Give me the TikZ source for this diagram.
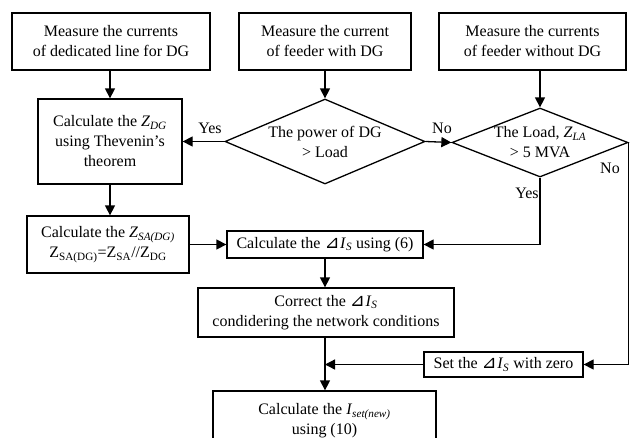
\documentclass[tikz,border=0pt]{standalone}
\usepackage{fontspec}
\setmainfont{Liberation Serif}
\newfontfamily\trifont{DejaVu Sans}
\usetikzlibrary{shapes.geometric,arrows.meta}

\newcommand{\dIs}{{\trifont\fontsize{18}{18}\selectfont ⊿}\kern0.5pt\textit{I}\textsubscript{\textit{S}}}

\tikzset{
	blk/.style={draw, line width=1.3pt, align=center, inner sep=0pt},
	dec/.style={draw, diamond, line width=1.3pt, inner sep=0pt},
	flow/.style={line width=1.3pt, -{Triangle[length=10pt,width=10pt]}},
	lbl/.style={inner sep=1pt}
}

\begin{document}
\begin{tikzpicture}[x=1pt, y=-1pt, font=\fontsize{16}{20}\selectfont]
	% Parameters
	\def\toph{57pt}
	\def\decw{200pt}
	\def\dech{85pt}
	
	\useasboundingbox (0,0) rectangle (636,437);
	\clip (0,0) rectangle (636,437);
	
	%measurements
	\node[blk, minimum width=198pt, minimum height=\toph] (mdl) at (111,41.5) {Measure the currents\\of dedicated line for DG};
	\node[blk, minimum width=172pt, minimum height=\toph] (mfw) at (325,41.5) {Measure the current\\of feeder with DG};
	\node[blk, minimum width=187pt, minimum height=\toph] (mfo) at (532.5,41.5) {Measure the currents\\of feeder without DG};
	
	%decisions
	\node[dec, minimum width=\decw, minimum height=\dech] (dpow) at (325,141.5) {};
	\node[align=center] at (dpow) {The power of DG\\> Load};
	\node[dec, minimum width=176pt, minimum height=69pt] (dload) at (540,142.5) {};
	\node[align=center] at (dload) {The Load, \textit{Z}\textsubscript{\textit{LA}}\\> 5 MVA};
	
	%blocks
	\node[blk, minimum width=144pt, minimum height=85pt] (zdg) at (110,141.5) {Calculate the \textit{Z}\textsubscript{\textit{DG}}\\using Thevenin's\\theorem};
	\node[blk, minimum width=162pt, minimum height=57pt] (zsa) at (108,244.5) {Calculate the \textit{Z}\textsubscript{\textit{SA(DG)}}\\Z\textsubscript{SA(DG)}=Z\textsubscript{SA}//Z\textsubscript{DG}};
	\node[blk, minimum width=196pt, minimum height=27pt] (cdi) at (325,244.5) {Calculate the \dIs\ using (6)};
	\node[blk, minimum width=256pt, minimum height=49pt] (corr) at (326,312.5) {Correct the \dIs\\condidering the network conditions};
	\node[blk, minimum width=159pt, minimum height=25pt] (zero) at (503.5,364.5) {Set the \dIs\ with zero};
	\node[blk, minimum width=223pt, minimum height=60pt] (iset) at (324.5,421) {Calculate the \textit{I}\textsubscript{\textit{set(new)}}\\using (10)};
	
	%flow
	\draw[flow] (mdl.south -| zdg) -- (zdg.north);
	\draw[flow] (mfw.south) -- (dpow.north);
	\draw[flow] (mfo.south -| dload) -- (dload.north);
	\draw[flow] (dpow.west) -- (zdg.east);
	\draw[flow] (dpow.east) -- (dload.west);
	\draw[flow] (zdg.south) -- (zdg.south |- zsa.north);
	\draw[flow] (zsa.east) -- (cdi.west);
	\draw[flow] (dload.south) -- (dload.south |- cdi.east) -- (cdi.east);
	\draw[flow] (dload.east) -- (dload.east |- zero.east) -- (zero.east);
	\draw[flow] (cdi.south) -- (cdi.south |- corr.north);
	\draw[flow] (corr.south -| cdi) -- (cdi |- iset.north);
	\draw[flow] (zero.west) -- (zero.west -| cdi);
	
	%labels
	\node[lbl] (yes1) at (210,128) {Yes};
	\node[lbl] (no1) at (442,128) {No};
	\node[lbl] (no2) at (610,168) {No};
	\node[lbl] (yes2) at (527,193) {Yes};
\end{tikzpicture}
\end{document}
